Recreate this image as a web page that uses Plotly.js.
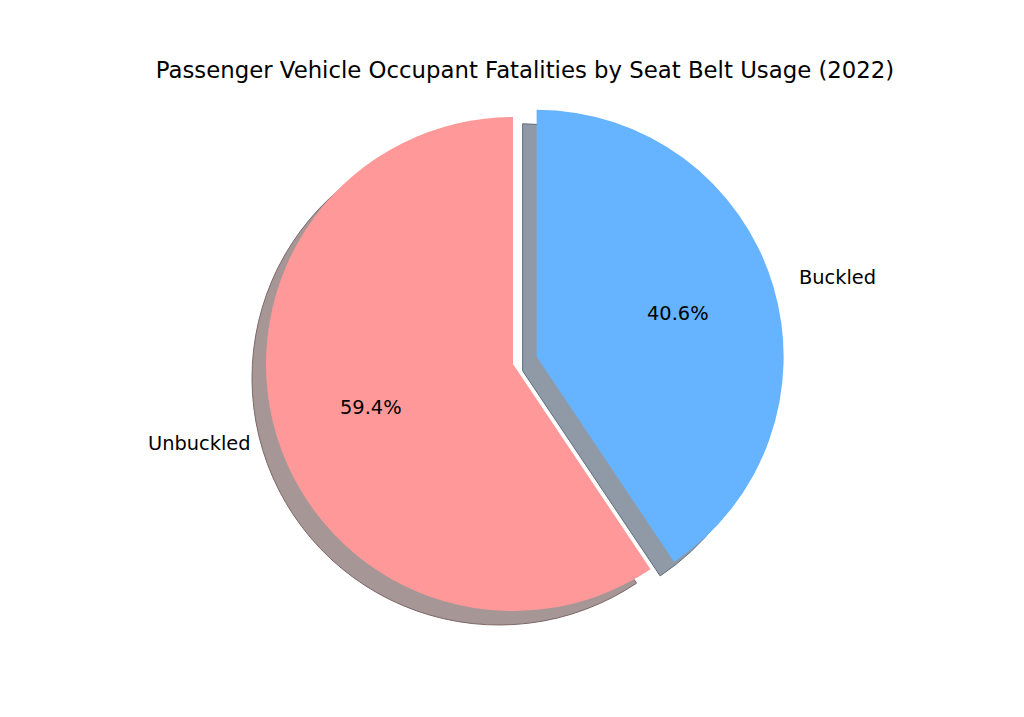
<!DOCTYPE html>
<html>
<head>
<meta charset="utf-8">
<script src="https://cdn.plot.ly/plotly-3.0.1.min.js"></script>
<style>html,body{margin:0;padding:0;background:#fff;}#chart{width:1024px;height:717px;}</style>
</head>
<body>
<div id="chart"></div>
<script>
// Data
const labels = ['Buckled', 'Unbuckled'];
const shares = [40.6, 59.4];
const pulls = [0.1, 0];
const sliceColors = ['#66b3ff', '#ff9999'];
const shadowColors = ['#8f9aa6', '#a69696'];
const shadowEdges = ['#5d6e7e', '#7d6868'];
const chartTitle = 'Passenger Vehicle Occupant Fatalities by Seat Belt Usage (2022)';

// Layout geometry (pixels)
const W = 1024, H = 717;
const cx = 513, cy = 364, r = 247;
const sdx = -14, sdy = 14;
const pctDist = 0.6, labelDist = 1.1;
const maxPull = Math.max(...pulls);
const half = r * (1 + maxPull);
function dom(x, y) {
  return {
    x: [(x - half) / W, (x + half) / W],
    y: [(H - y - half) / H, (H - y + half) / H]
  };
}
const font = {family: 'DejaVu Sans, sans-serif', size: 19.4, color: '#000'};

const common = {
  type: 'pie', labels: labels, values: shares, sort: false,
  direction: 'clockwise', rotation: 0, pull: pulls,
  showlegend: false, hoverinfo: 'skip', textinfo: 'none'
};

const shadow = Object.assign({}, common, {
  domain: dom(cx + sdx, cy + sdy),
  marker: {colors: shadowColors, line: {color: shadowEdges, width: 1}}
});
const main = Object.assign({}, common, {
  domain: dom(cx, cy),
  marker: {colors: sliceColors, line: {width: 0}}
});

// Text placed from the slice angles (slices run clockwise from 12 o'clock)
const total = shares.reduce((a, b) => a + b, 0);
const annotations = [];
let start = 90;
shares.forEach((v, i) => {
  const sweep = v / total * 360;
  const mid = (start - sweep / 2) * Math.PI / 180;
  start -= sweep;
  const c = Math.cos(mid), s = Math.sin(mid);
  const ox = cx + pulls[i] * r * c, oy = cy - pulls[i] * r * s;
  const px = ox + pctDist * r * c, py = oy - pctDist * r * s;
  const lx = ox + labelDist * r * c, ly = oy - labelDist * r * s;
  annotations.push({
    xref: 'paper', yref: 'paper', x: px / W, y: 1 - py / H,
    xanchor: 'center', yanchor: 'middle', showarrow: false,
    text: (v / total * 100).toFixed(1) + '%', font: font
  });
  annotations.push({
    xref: 'paper', yref: 'paper', x: lx / W, y: 1 - ly / H,
    xanchor: c > 0 ? 'left' : 'right', yanchor: 'middle', showarrow: false,
    text: labels[i], font: font
  });
});

const layout = {
  width: W, height: H,
  margin: {l: 0, r: 0, t: 0, b: 0},
  paper_bgcolor: '#fff',
  title: {
    text: chartTitle,
    font: {family: 'DejaVu Sans, sans-serif', size: 22.8, color: '#000'},
    x: 525 / W, xanchor: 'center',
    y: 1 - 70 / H, yanchor: 'middle', yref: 'container'
  },
  annotations: annotations,
  showlegend: false
};

Plotly.newPlot('chart', [shadow, main], layout, {displayModeBar: false, staticPlot: true});
</script>
</body>
</html>
